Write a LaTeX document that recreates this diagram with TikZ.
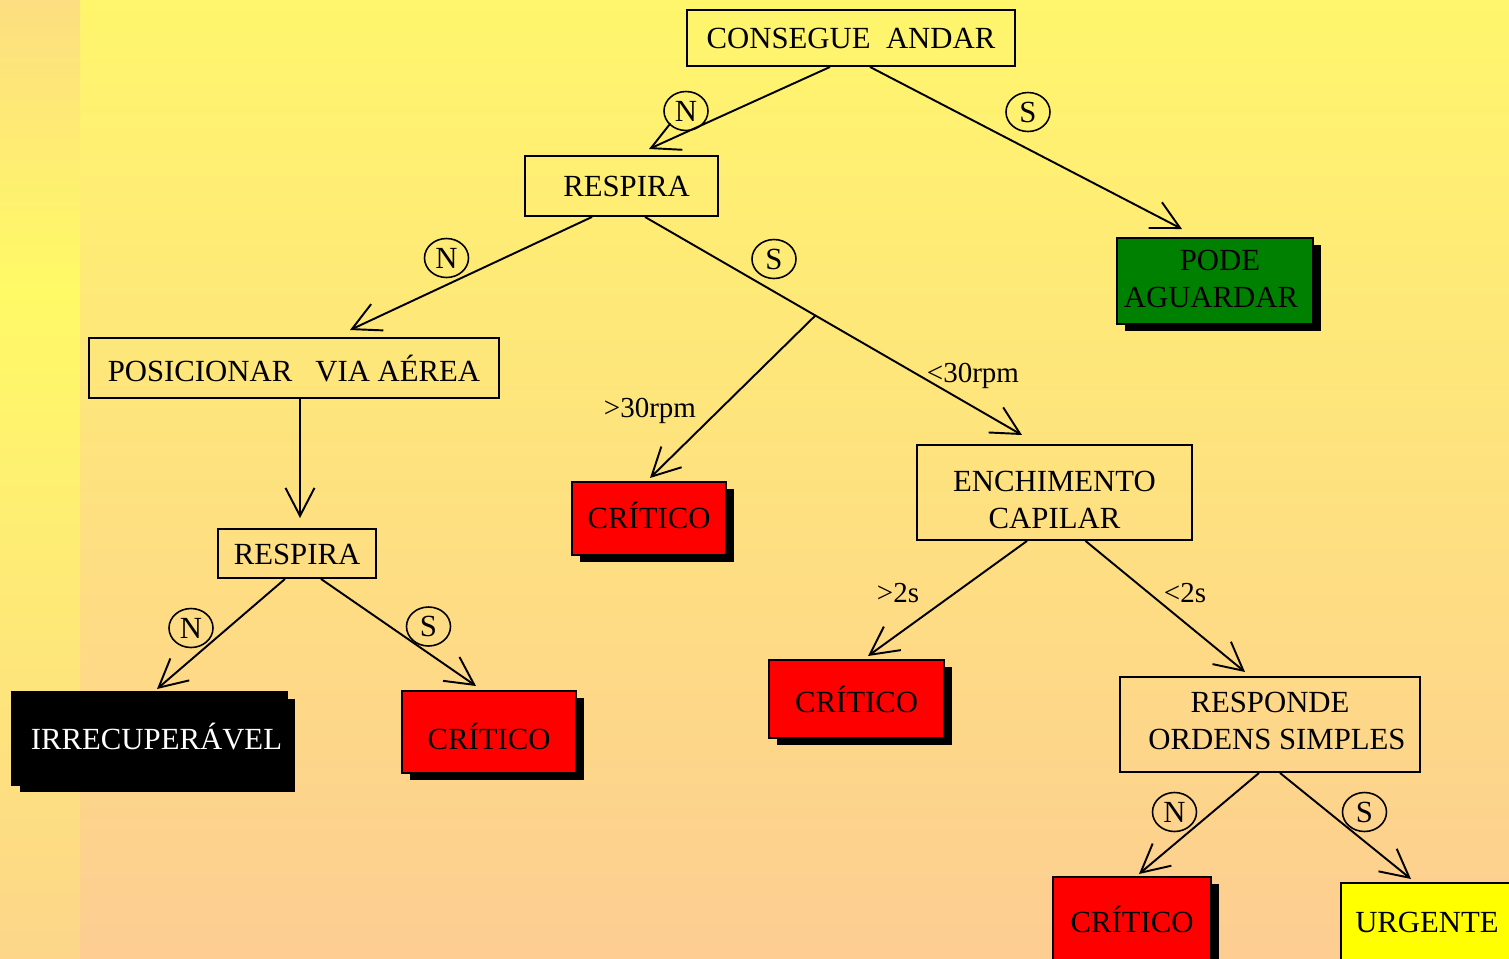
\documentclass[tikz,border=0pt]{standalone}
\usepackage{fontspec}
\setmainfont{Liberation Serif}
\usetikzlibrary{arrows.meta,calc,shapes.geometric,shadows}

\definecolor{bgtop}{RGB}{255,246,108}
\definecolor{bgbottom}{RGB}{253,205,146}
\definecolor{striptop}{RGB}{253,222,128}
\definecolor{stripmid}{RGB}{255,250,102}
\definecolor{stripbottom}{RGB}{253,214,138}
\definecolor{okgreen}{RGB}{0,128,0}
\definecolor{critred}{RGB}{255,0,0}
\definecolor{urgyellow}{RGB}{255,255,0}

\newcommand{\boxfont}{\fontsize{17.5}{21}\selectfont}
\newcommand{\ratefont}{\fontsize{16.5}{20}\selectfont}

\tikzset{
  box/.style={draw, line width=1.1pt, inner sep=0pt, align=center, font=\boxfont, text height=11.6pt, text depth=0pt},
  shadowbox/.style={box, general shadow={fill=black, shadow xshift=0.16cm, shadow yshift=-0.14cm}},
  yesno/.style={ellipse, draw, line width=0.9pt, inner sep=0pt, minimum width=0.88cm, minimum height=0.78cm, font=\boxfont},
  rate/.style={inner sep=0pt, anchor=base, font=\ratefont},
  arrowline/.style={line width=1.1pt, -{Straight Barb[length=0.56cm, width=0.58cm]}}
}

\begin{document}
\begin{tikzpicture}[x=0.02cm, y=-0.02cm]
  \useasboundingbox (0,0) rectangle (1509,958);
  \clip (0,0) rectangle (1509,958);

  % Background
  \shade[top color=bgtop, bottom color=bgbottom] (80,0) rectangle (1509,958);
  \shade[top color=striptop, bottom color=stripmid] (0,0) rectangle (80,290);
  \shade[top color=stripmid, bottom color=stripbottom] (0,289) rectangle (80,958);

  % Drawing box CONSEGUE ANDAR
  \node (consegue) at (851,38) [box, minimum width=6.56cm, minimum height=1.12cm] {CONSEGUE\ \ ANDAR};

  % Drawing box RESPIRA (first)
  \node (respiraA) at (621.5,186) [box, text height=12.2pt, minimum width=3.86cm, minimum height=1.20cm] {\hspace{0.2cm}RESPIRA};

  % Drawing box POSICIONAR VIA AEREA
  \node (posicionar) at (294,368) [box, text height=15pt, minimum width=8.20cm, minimum height=1.20cm] {POSICIONAR\ \ \ VIA AÉREA};

  % Drawing box PODE AGUARDAR
  \node (pode) at (1215,281) [shadowbox, text height=29.6pt, fill=okgreen, minimum width=3.92cm, minimum height=1.72cm] {\kern0.2cm PODE\\AGUARDAR\kern0.16cm};

  % Drawing box CRITICO (rpm)
  \node (criticoA) at (649,518.5) [shadowbox, fill=critred, minimum width=3.08cm, minimum height=1.46cm] {CRÍTICO};

  % Drawing box ENCHIMENTO CAPILAR
  \node (enchimento) at (1054.5,492.5) [box, text height=40.4pt, minimum width=5.50cm, minimum height=1.90cm] {ENCHIMENTO\\CAPILAR};

  % Drawing box RESPIRA (second)
  \node (respiraB) at (297,553.5) [box, text height=12.2pt, minimum width=3.16cm, minimum height=0.98cm] {RESPIRA};

  % Drawing box IRRECUPERAVEL
  \node (irrecuperavel) at (149.5,738.5) [shadowbox, text height=12.2pt, fill=black, text=white, minimum width=5.50cm, minimum height=1.86cm] {\hspace{0.28cm}IRRECUPERÁVEL};

  % Drawing box CRITICO (respira)
  \node (criticoB) at (489,732) [shadowbox, text height=19.6pt, fill=critred, minimum width=3.48cm, minimum height=1.64cm] {CRÍTICO};

  % Drawing box CRITICO (capilar)
  \node (criticoC) at (856.5,699) [shadowbox, text height=15pt, fill=critred, minimum width=3.50cm, minimum height=1.56cm] {CRÍTICO};

  % Drawing box RESPONDE ORDENS SIMPLES
  \node (responde) at (1270,724.5) [box, text height=27.9pt, minimum width=6.00cm, minimum height=1.90cm] {RESPONDE\\\kern0.28cm ORDENS SIMPLES};

  % Drawing box CRITICO (ordens)
  \node (criticoD) at (1132,922) [shadowbox, fill=critred, minimum width=3.16cm, minimum height=1.80cm] {CRÍTICO};

  % Drawing box URGENTE
  \node (urgente) at (1427,922) [box, fill=urgyellow, minimum width=3.44cm, minimum height=1.56cm] {URGENTE};

  % Arrow tips and fork
  \coordinate (tipRespiraA) at (649,149);
  \coordinate (tipPode) at (1182,229);
  \coordinate (tipPosicionar) at (350,330);
  \coordinate (tipCriticoA) at (650,478);
  \coordinate (tipEnchimento) at (1022,435);
  \coordinate (tipRespiraB) at (300,518);
  \coordinate (tipIrrecuperavel) at (157,689);
  \coordinate (tipCriticoB) at (476,686);
  \coordinate (tipCriticoC) at (868,656);
  \coordinate (tipResponde) at (1245,672);
  \coordinate (tipCriticoD) at (1139,874);
  \coordinate (tipUrgente) at (1411,879);
  \coordinate (startS) at ($(respiraA.south)+(23.5,0)$);
  \coordinate (fork) at ($(startS)!0.452!(tipEnchimento)$);

  % Drawing connectors
  \draw[arrowline] ($(consegue.south)+(-21,0)$) -- (tipRespiraA);
  \draw[arrowline] ($(consegue.south)+(19,0)$) -- (tipPode);
  \draw[arrowline] ($(respiraA.south)+(-29.5,0)$) -- (tipPosicionar);
  \draw[arrowline] (startS) -- (tipEnchimento);
  \draw[arrowline] (fork) -- (tipCriticoA);
  \draw[arrowline] ($(posicionar.south)+(6,0)$) -- (tipRespiraB);
  \draw[arrowline] ($(respiraB.south)+(-12,0)$) -- (tipIrrecuperavel);
  \draw[arrowline] ($(respiraB.south)+(24,0)$) -- (tipCriticoB);
  \draw[arrowline] ($(enchimento.south)+(-27.5,0)$) -- (tipCriticoC);
  \draw[arrowline] ($(enchimento.south)+(31,0)$) -- (tipResponde);
  \draw[arrowline] ($(responde.south)+(-11,0)$) -- (tipCriticoD);
  \draw[arrowline] ($(responde.south)+(10,0)$) -- (tipUrgente);

  % Marking answers N / S
  \node (noA) at (686,111) [yesno] {N};
  \node (yesA) at (1028,112) [yesno] {S};
  \node (noB) at (446.5,258) [yesno] {N};
  \node (yesB) at (774,259) [yesno] {S};
  \node (noC) at (191,628) [yesno] {N};
  \node (yesC) at (428.5,626.5) [yesno] {S};
  \node (noD) at (1174.5,812) [yesno] {N};
  \node (yesD) at (1364.5,812) [yesno] {S};

  % Marking rates
  \node (fastrate) at (650,417) [rate] {>30rpm};
  \node (slowrate) at (973,382) [rate] {<30rpm};
  \node (slowfill) at (898,602) [rate] {>2s};
  \node (fastfill) at (1185,602) [rate] {<2s};
\end{tikzpicture}
\end{document}
